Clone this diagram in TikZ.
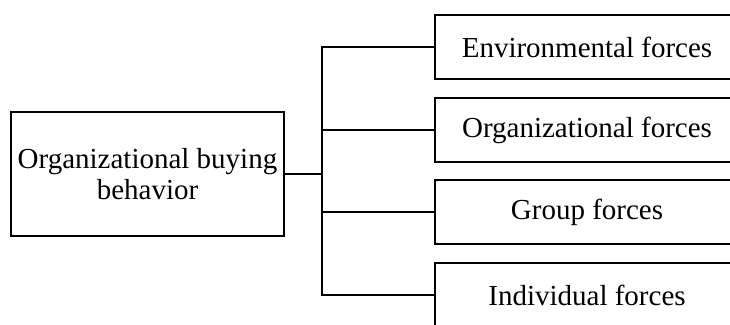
\documentclass[tikz,border=0pt]{standalone}
\usepackage{fontspec}
\setmainfont{Liberation Serif}
\begin{document}
\begin{tikzpicture}[x=1pt,y=-1pt,
  box/.style={draw=black,line width=2pt,inner sep=0pt,align=center,
    font=\fontsize{29}{31}\selectfont},
  rbox/.style={box,minimum width=304pt,minimum height=64pt},
  conn/.style={draw=black,line width=1.8pt},
  mainconn/.style={draw=black,line width=2.6pt}]
\useasboundingbox (0,0) rectangle (730,324);
\clip (0,0) rectangle (730,324);
\node[box,minimum width=273pt,minimum height=124pt] (L) at (147.5,174) {Organizational buying\\behavior};
\node[rbox] (R1) at (587,47) {Environmental forces};
\node[rbox] (R2) at (587,130) {Organizational forces};
\node[rbox] (R3) at (587,212) {Group forces};
\node[rbox] (R4) at (587,295) {Individual forces};
\coordinate (bus) at (322,174);
\draw[mainconn] (L.east) -- (bus);
\draw[conn] (R1.west) -- (R1.west -| bus) -- (R4.west -| bus) -- (R4.west);
\draw[conn] (R2.west) -- (R2.west -| bus);
\draw[conn] (R3.west) -- (R3.west -| bus);
\end{tikzpicture}
\end{document}
